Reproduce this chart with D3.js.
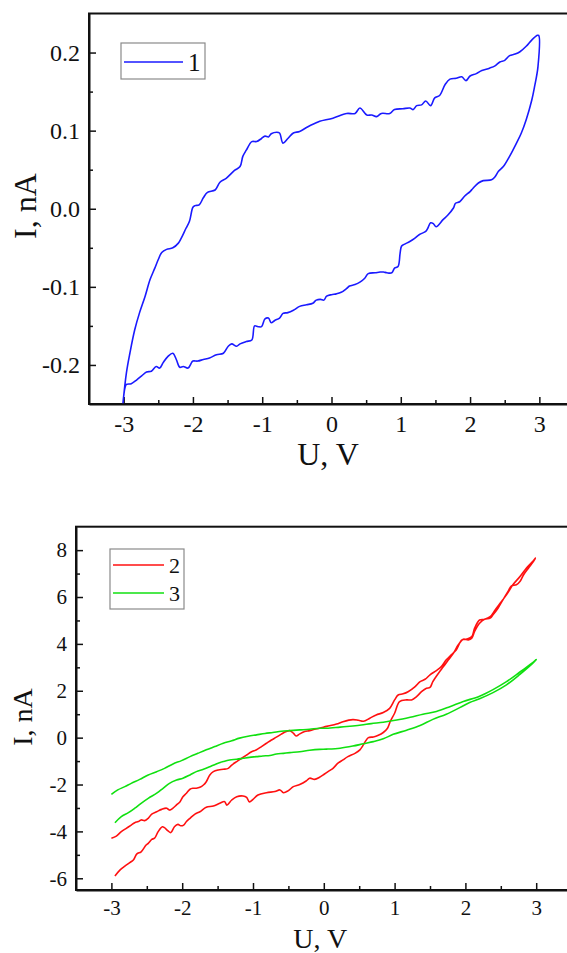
<!DOCTYPE html>
<html>
<head>
<meta charset="utf-8">
<script src="https://cdn.jsdelivr.net/npm/d3@7"></script>
<style>
    body { margin: 0; background: #fff; }
    svg { display: block; font-family: "Liberation Serif", "Times New Roman", serif; }
    .domain { stroke: #111; stroke-width: 2; }
    .tick line { stroke: #111; stroke-width: 1.5; }
</style>
</head>
<body>
<svg id="chart" width="567" height="953"></svg>
<script>
// sample 1: I-U loop, [U (V), I (nA)]
var curve1Up = [[-3.01,-0.249],[-2.96,-0.210],[-2.91,-0.185],[-2.84,-0.155],[-2.77,-0.133],[-2.69,-0.112],[-2.62,-0.091],
    [-2.55,-0.076],[-2.50,-0.065],[-2.45,-0.056],[-2.38,-0.052],[-2.29,-0.050],[-2.21,-0.044],[-2.17,-0.038],[-2.10,-0.025],
    [-2.05,-0.016],[-2.00,0.002],[-1.97,0.004],[-1.91,0.005],[-1.85,0.014],[-1.79,0.021],[-1.68,0.024],[-1.61,0.034],
    [-1.52,0.039],[-1.40,0.049],[-1.32,0.054],[-1.28,0.067],[-1.23,0.075],[-1.15,0.086],[-1.08,0.086],[-1.01,0.090],
    [-0.96,0.093],[-0.91,0.092],[-0.87,0.096],[-0.79,0.098],[-0.75,0.097],[-0.70,0.084],[-0.63,0.090],[-0.55,0.097],
    [-0.46,0.099],[-0.34,0.105],[-0.22,0.110],[-0.17,0.112],[0.02,0.116],[0.22,0.122],[0.34,0.122],[0.41,0.129],
    [0.51,0.120],[0.58,0.120],[0.65,0.118],[0.72,0.122],[0.84,0.122],[0.91,0.127],[1.03,0.128],[1.13,0.129],[1.18,0.127],
    [1.23,0.132],[1.30,0.133],[1.36,0.138],[1.43,0.132],[1.49,0.142],[1.56,0.145],[1.64,0.159],[1.71,0.166],[1.80,0.167],
    [1.88,0.169],[1.94,0.164],[2.00,0.170],[2.09,0.173],[2.17,0.177],[2.28,0.180],[2.36,0.183],[2.43,0.188],[2.50,0.190],
    [2.57,0.196],[2.65,0.198],[2.72,0.201],[2.81,0.208],[2.89,0.216],[2.97,0.222],[2.99,0.222]];
var curve1Down = [[2.98,0.182],[2.93,0.156],[2.89,0.139],[2.81,0.114],[2.74,0.097],[2.67,0.084],[2.57,0.067],[2.48,0.054],
    [2.41,0.048],[2.36,0.041],[2.31,0.037],[2.19,0.036],[2.12,0.033],[2.04,0.026],[2.00,0.022],[1.92,0.016],[1.85,0.009],
    [1.79,0.007],[1.76,0.001],[1.68,-0.008],[1.61,-0.014],[1.51,-0.023],[1.47,-0.019],[1.43,-0.018],[1.39,-0.025],
    [1.36,-0.029],[1.27,-0.033],[1.20,-0.038],[1.13,-0.042],[1.04,-0.046],[1.01,-0.048],[0.99,-0.057],[0.96,-0.074],
    [0.91,-0.076],[0.87,-0.082],[0.80,-0.082],[0.75,-0.081],[0.70,-0.081],[0.63,-0.082],[0.53,-0.083],[0.48,-0.089],
    [0.41,-0.094],[0.34,-0.097],[0.26,-0.099],[0.22,-0.102],[0.14,-0.107],[0.07,-0.109],[0.00,-0.110],[-0.07,-0.112],
    [-0.11,-0.117],[-0.16,-0.116],[-0.22,-0.117],[-0.27,-0.121],[-0.36,-0.123],[-0.46,-0.125],[-0.55,-0.130],[-0.63,-0.133],
    [-0.70,-0.134],[-0.75,-0.140],[-0.82,-0.143],[-0.87,-0.146],[-0.91,-0.140],[-0.96,-0.141],[-1.01,-0.151],[-1.06,-0.151],
    [-1.11,-0.150],[-1.15,-0.168],[-1.23,-0.170],[-1.32,-0.173],[-1.37,-0.176],[-1.44,-0.173],[-1.49,-0.176],[-1.56,-0.185],
    [-1.66,-0.187],[-1.76,-0.191],[-1.85,-0.193],[-1.93,-0.195],[-2.00,-0.195],[-2.02,-0.197],[-2.07,-0.204],[-2.14,-0.202],
    [-2.19,-0.203],[-2.24,-0.193],[-2.29,-0.185],[-2.36,-0.189],[-2.43,-0.197],[-2.48,-0.204],[-2.53,-0.202],[-2.60,-0.208],
    [-2.67,-0.209],[-2.74,-0.214],[-2.81,-0.219],[-2.89,-0.224],[-2.96,-0.225],[-2.98,-0.229],[-3.01,-0.249]];

// sample 2
var curve2Up = [[-3.00,-4.29],[-2.93,-4.20],[-2.86,-4.01],[-2.79,-3.87],[-2.72,-3.73],[-2.67,-3.63],[-2.62,-3.58],
    [-2.58,-3.51],[-2.53,-3.54],[-2.48,-3.44],[-2.43,-3.26],[-2.36,-3.16],[-2.29,-3.06],[-2.22,-3.01],[-2.18,-3.09],
    [-2.13,-3.01],[-2.08,-2.87],[-2.03,-2.73],[-1.99,-2.52],[-1.94,-2.37],[-1.89,-2.20],[-1.85,-2.16],[-1.80,-2.16],
    [-1.75,-2.12],[-1.70,-2.02],[-1.66,-1.88],[-1.61,-1.59],[-1.56,-1.45],[-1.49,-1.38],[-1.42,-1.35],[-1.35,-1.31],
    [-1.30,-1.17],[-1.23,-1.02],[-1.16,-0.88],[-1.09,-0.74],[-1.02,-0.60],[-0.95,-0.52],[-0.88,-0.38],[-0.81,-0.24],
    [-0.74,-0.10],[-0.67,0.02],[-0.60,0.15],[-0.53,0.26],[-0.48,0.30],[-0.43,0.19],[-0.39,0.07],[-0.34,0.16],
    [-0.27,0.26],[-0.20,0.30],[-0.13,0.36],[-0.06,0.40],[0.04,0.48],[0.18,0.58],[0.27,0.68],[0.41,0.77],[0.49,0.74],
    [0.56,0.70],[0.65,0.83],[0.74,0.97],[0.84,1.07],[0.93,1.25],[1.00,1.61],[1.05,1.82],[1.12,1.87],[1.19,1.96],
    [1.29,2.18],[1.36,2.39],[1.43,2.49],[1.50,2.68],[1.59,2.86],[1.66,3.03],[1.73,3.32],[1.80,3.53],[1.87,3.74],
    [1.95,4.17],[2.02,4.21],[2.09,4.31],[2.13,4.67],[2.20,5.02],[2.27,5.05],[2.35,5.16],[2.42,5.45],[2.49,5.74],
    [2.58,6.09],[2.67,6.52],[2.77,6.87],[2.86,7.23],[2.96,7.55],[2.99,7.66]];
var curve2Down = [[2.96,7.51],[2.89,7.23],[2.82,6.94],[2.77,6.66],[2.72,6.52],[2.65,6.47],[2.60,6.23],[2.53,5.88],
    [2.46,5.52],[2.39,5.24],[2.35,5.10],[2.27,5.05],[2.20,4.88],[2.13,4.53],[2.09,4.24],[2.04,4.17],[1.97,4.20],
    [1.90,3.96],[1.83,3.60],[1.76,3.32],[1.69,3.03],[1.62,2.75],[1.54,2.39],[1.50,2.14],[1.45,2.11],[1.38,1.96],
    [1.31,1.75],[1.24,1.61],[1.17,1.61],[1.07,1.54],[1.00,1.04],[0.94,0.70],[0.90,0.40],[0.84,0.22],[0.77,0.10],
    [0.70,0.03],[0.63,0.00],[0.59,-0.15],[0.55,-0.35],[0.51,-0.52],[0.44,-0.67],[0.34,-0.81],[0.27,-0.95],[0.20,-1.09],
    [0.13,-1.31],[0.08,-1.41],[0.01,-1.55],[-0.06,-1.69],[-0.13,-1.78],[-0.20,-1.73],[-0.25,-1.85],[-0.34,-2.00],
    [-0.43,-2.09],[-0.50,-2.26],[-0.57,-2.35],[-0.62,-2.23],[-0.69,-2.30],[-0.81,-2.35],[-0.93,-2.45],[-1.00,-2.63],
    [-1.05,-2.74],[-1.09,-2.55],[-1.14,-2.49],[-1.23,-2.52],[-1.30,-2.66],[-1.37,-2.88],[-1.40,-2.73],[-1.47,-2.80],
    [-1.56,-2.92],[-1.66,-2.97],[-1.75,-3.16],[-1.82,-3.26],[-1.89,-3.44],[-1.94,-3.58],[-1.98,-3.73],[-2.02,-3.76],
    [-2.06,-3.70],[-2.11,-3.80],[-2.16,-4.05],[-2.20,-3.98],[-2.25,-3.84],[-2.28,-3.80],[-2.34,-4.01],[-2.39,-4.29],
    [-2.43,-4.34],[-2.48,-4.51],[-2.51,-4.58],[-2.58,-4.87],[-2.64,-4.96],[-2.69,-5.22],[-2.74,-5.33],[-2.81,-5.48],
    [-2.88,-5.65],[-2.95,-5.90]];

// sample 3
var curve3Up = [[-3.00,-2.42],[-2.91,-2.23],[-2.81,-2.09],[-2.72,-1.95],[-2.60,-1.78],[-2.48,-1.59],[-2.36,-1.45],
    [-2.25,-1.31],[-2.13,-1.12],[-2.01,-0.98],[-1.89,-0.81],[-1.78,-0.67],[-1.66,-0.52],[-1.54,-0.38],[-1.42,-0.24],
    [-1.30,-0.13],[-1.19,-0.02],[-1.07,0.06],[-0.95,0.12],[-0.83,0.18],[-0.72,0.22],[-0.60,0.27],[-0.48,0.30],
    [-0.34,0.33],[-0.20,0.36],[-0.06,0.40],[0.04,0.40],[0.23,0.45],[0.41,0.50],[0.53,0.54],[0.67,0.60],[0.84,0.66],
    [1.03,0.75],[1.22,0.87],[1.40,1.00],[1.59,1.12],[1.78,1.32],[1.97,1.54],[2.20,1.77],[2.39,2.05],[2.58,2.39],
    [2.77,2.80],[2.96,3.22],[3.00,3.33]];
var curve3Down = [[3.00,3.33],[2.96,3.20],[2.77,2.70],[2.58,2.25],[2.39,1.92],[2.20,1.66],[2.06,1.50],[1.92,1.28],
    [1.73,1.00],[1.54,0.78],[1.36,0.52],[1.17,0.32],[0.98,0.14],[0.84,-0.05],[0.70,-0.17],[0.56,-0.26],[0.41,-0.36],
    [0.23,-0.45],[0.04,-0.49],[-0.06,-0.50],[-0.20,-0.54],[-0.34,-0.60],[-0.48,-0.64],[-0.57,-0.67],[-0.67,-0.70],
    [-0.76,-0.76],[-0.86,-0.78],[-0.95,-0.81],[-1.05,-0.84],[-1.14,-0.88],[-1.23,-0.92],[-1.33,-0.95],[-1.42,-1.02],
    [-1.52,-1.12],[-1.61,-1.24],[-1.70,-1.35],[-1.80,-1.45],[-1.89,-1.59],[-1.99,-1.73],[-2.08,-1.81],[-2.18,-1.95],
    [-2.27,-2.16],[-2.36,-2.37],[-2.48,-2.59],[-2.58,-2.80],[-2.67,-3.01],[-2.76,-3.20],[-2.86,-3.37],[-2.95,-3.63]];

var xTicks = [-3, -2, -1, 0, 1, 2, 3];
var xMinorTicks = [-2.5, -1.5, -0.5, 0.5, 1.5, 2.5];
var topYTicks = [-0.2, -0.1, 0.0, 0.1, 0.2];
var topYMinorTicks = [-0.15, -0.05, 0.05, 0.15];
var botYTicks = [-6, -4, -2, 0, 2, 4, 6, 8];
var botYMinorTicks = [-5, -3, -1, 1, 3, 5, 7];

var svg = d3.select("#chart");
var FONT = "Liberation Serif, Times New Roman, serif";

// plain hyphen for negatives, like the source figure
function hyphen(fmt) {
    return function (d) { return fmt(d).replace("\u2212", "-"); };
}

function drawPanel(p) {
    var g = svg.append("g");

    var x = d3.scaleLinear().domain([-3.5, 3.5]).range([p.left, p.right]);
    var y = d3.scaleLinear().domain(p.yDomain).range([p.bottom, p.top]);

    g.append("clipPath").attr("id", p.id + "-clip")
        .append("rect")
        .attr("x", p.left).attr("y", p.top)
        .attr("width", p.right - p.left).attr("height", p.bottom - p.top);

    // frame (right side falls outside the page like in the source)
    g.append("rect")
        .attr("x", p.left).attr("y", p.top)
        .attr("width", p.right - p.left).attr("height", p.bottom - p.top)
        .attr("fill", "none").attr("stroke", "#111").attr("stroke-width", 2);

    g.append("g").attr("transform", "translate(0," + p.bottom + ")")
        .call(d3.axisBottom(x).tickValues(xTicks).tickSizeInner(-7).tickSizeOuter(0)
            .tickPadding(p.xPad).tickFormat(hyphen(d3.format("d"))));
    g.append("g").attr("transform", "translate(0," + p.bottom + ")")
        .call(d3.axisBottom(x).tickValues(xMinorTicks).tickSizeInner(-4).tickSizeOuter(0).tickFormat(""))
        .select(".domain").remove();

    g.append("g").attr("transform", "translate(" + p.left + ",0)")
        .call(d3.axisLeft(y).tickValues(p.yTicks).tickSizeInner(-7).tickSizeOuter(0)
            .tickPadding(9).tickFormat(hyphen(p.yFormat)));
    g.append("g").attr("transform", "translate(" + p.left + ",0)")
        .call(d3.axisLeft(y).tickValues(p.yMinor).tickSizeInner(-4).tickSizeOuter(0).tickFormat(""))
        .select(".domain").remove();

    g.selectAll("g").attr("font-family", FONT).attr("font-size", p.tickFont);
    g.selectAll(".tick text").attr("fill", "#111");

    // axis titles
    g.append("text")
        .attr("x", (p.left + x(3.4)) / 2)
        .attr("y", p.xTitleY)
        .attr("text-anchor", "middle")
        .attr("font-family", FONT)
        .attr("font-size", p.titleFont)
        .attr("fill", "#111")
        .text("U, V");
    g.append("text")
        .attr("transform", "translate(" + p.yTitleX + "," + p.yTitleY + ") rotate(-90)")
        .attr("text-anchor", "middle")
        .attr("font-family", FONT)
        .attr("font-size", p.titleFont)
        .attr("fill", "#111")
        .text("I, nA");

    var line = d3.line()
        .x(function (d) { return x(d[0]); })
        .y(function (d) { return y(d[1]); })
        .curve(d3.curveCatmullRom.alpha(0.5));

    var curves = g.append("g").attr("clip-path", "url(#" + p.id + "-clip)");
    p.series.forEach(function (s) {
        curves.append("path")
            .attr("d", line(s.data))
            .attr("fill", "none")
            .attr("stroke", s.color)
            .attr("stroke-width", 1.6)
            .attr("stroke-linejoin", "round");
    });

    // legend
    var lg = g.append("g");
    lg.append("rect")
        .attr("x", p.legend.x).attr("y", p.legend.y)
        .attr("width", p.legend.w).attr("height", p.legend.h)
        .attr("fill", "#fff").attr("stroke", "#8a8a8a").attr("stroke-width", 1.2);
    p.series.forEach(function (s, i) {
        var ly = p.legend.y + p.legend.first + i * p.legend.step;
        lg.append("line")
            .attr("x1", p.legend.x + 3).attr("x2", p.legend.x + p.legend.lineLen)
            .attr("y1", ly).attr("y2", ly)
            .attr("stroke", s.color).attr("stroke-width", 1.6);
        lg.append("text")
            .attr("x", p.legend.x + p.legend.lineLen + 5)
            .attr("y", ly)
            .attr("dy", "0.35em")
            .attr("font-family", FONT)
            .attr("font-size", p.legend.font)
            .attr("fill", "#111")
            .text(s.name);
    });
}

drawPanel({
    id: "top", left: 89, right: 574, top: 13.5, bottom: 404,
    yDomain: [-0.25, 0.25], yTicks: topYTicks, yMinor: topYMinorTicks, yFormat: d3.format(".1f"),
    xPad: 11, tickFont: 24, titleFont: 32, xTitleY: 465, yTitleX: 36, yTitleY: 206,
    series: [{name: "1", color: "#1a1aff", data: curve1Up.concat(curve1Down)}],
    legend: {x: 121, y: 43, w: 84, h: 36, first: 19, step: 0, lineLen: 62, font: 25}
});

drawPanel({
    id: "bot", left: 76, right: 571.6, top: 526.7, bottom: 890,
    yDomain: [-6.5, 9], yTicks: botYTicks, yMinor: botYMinorTicks, yFormat: d3.format("d"),
    xPad: 10, tickFont: 21, titleFont: 28, xTitleY: 948, yTitleX: 32, yTitleY: 717,
    series: [{name: "2", color: "#ff1010", data: curve2Up.concat(curve2Down)},
             {name: "3", color: "#10e010", data: curve3Up.concat(curve3Down)}],
    legend: {x: 110, y: 549, w: 74, h: 60, first: 16, step: 28, lineLen: 54, font: 22}
});
</script>
</body>
</html>
